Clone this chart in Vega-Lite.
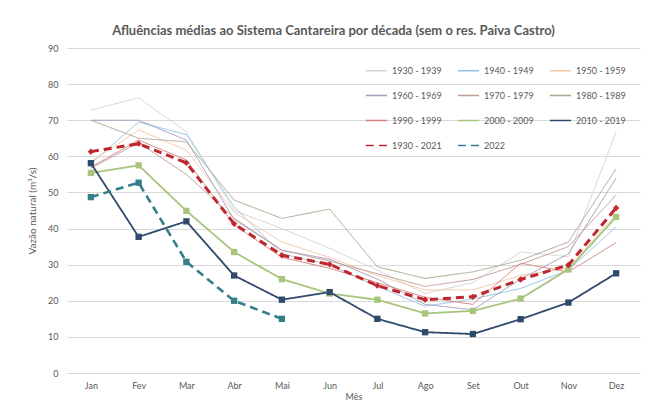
{
  "$schema": "https://vega.github.io/schema/vega-lite/v6.json",
  "width": 573,
  "height": 325,
  "autosize": {"type": "none"},
  "padding": {"left": 67, "top": 48, "right": 20, "bottom": 44},
  "background": "white",
  "title": {"text": "Afluências médias ao Sistema Cantareira por década  (sem o res. Paiva Castro)", "fontSize": 13, "font": "Lato", "fontWeight": "bold", "color": "#595959", "offset": 6, "dx": -20, "anchor": "middle"},
  "config": {
    "view": {"stroke": null},
    "font": "Lato",
    "axis": {"labelColor": "#595959", "titleColor": "#595959", "labelFontSize": 9, "titleFontSize": 9, "titleFontWeight": "normal", "ticks": false}
  },
  "data": {"values": [
    {"s":"1930 - 1939","m":"Jan","v":72.8},{"s":"1930 - 1939","m":"Fev","v":76.2},{"s":"1930 - 1939","m":"Mar","v":66.8},{"s":"1930 - 1939","m":"Abr","v":45},{"s":"1930 - 1939","m":"Mai","v":40},{"s":"1930 - 1939","m":"Jun","v":34.5},{"s":"1930 - 1939","m":"Jul","v":28.5},{"s":"1930 - 1939","m":"Ago","v":22},{"s":"1930 - 1939","m":"Set","v":25},{"s":"1930 - 1939","m":"Out","v":33.5},{"s":"1930 - 1939","m":"Nov","v":32.2},{"s":"1930 - 1939","m":"Dez","v":66.8},
    {"s":"1940 - 1949","m":"Jan","v":58},{"s":"1940 - 1949","m":"Fev","v":69.5},{"s":"1940 - 1949","m":"Mar","v":66},{"s":"1940 - 1949","m":"Abr","v":46},{"s":"1940 - 1949","m":"Mai","v":33},{"s":"1940 - 1949","m":"Jun","v":30},{"s":"1940 - 1949","m":"Jul","v":24},{"s":"1940 - 1949","m":"Ago","v":18.5},{"s":"1940 - 1949","m":"Set","v":20.5},{"s":"1940 - 1949","m":"Out","v":23.4},{"s":"1940 - 1949","m":"Nov","v":28.5},{"s":"1940 - 1949","m":"Dez","v":40.5},
    {"s":"1950 - 1959","m":"Jan","v":58.5},{"s":"1950 - 1959","m":"Fev","v":67.3},{"s":"1950 - 1959","m":"Mar","v":61.7},{"s":"1950 - 1959","m":"Abr","v":44.5},{"s":"1950 - 1959","m":"Mai","v":36.3},{"s":"1950 - 1959","m":"Jun","v":32},{"s":"1950 - 1959","m":"Jul","v":27},{"s":"1950 - 1959","m":"Ago","v":23},{"s":"1950 - 1959","m":"Set","v":23},{"s":"1950 - 1959","m":"Out","v":27},{"s":"1950 - 1959","m":"Nov","v":29},{"s":"1950 - 1959","m":"Dez","v":44},
    {"s":"1960 - 1969","m":"Jan","v":70},{"s":"1960 - 1969","m":"Fev","v":70},{"s":"1960 - 1969","m":"Mar","v":64.5},{"s":"1960 - 1969","m":"Abr","v":42.5},{"s":"1960 - 1969","m":"Mai","v":34},{"s":"1960 - 1969","m":"Jun","v":31.5},{"s":"1960 - 1969","m":"Jul","v":26},{"s":"1960 - 1969","m":"Ago","v":19},{"s":"1960 - 1969","m":"Set","v":17.5},{"s":"1960 - 1969","m":"Out","v":26},{"s":"1960 - 1969","m":"Nov","v":33},{"s":"1960 - 1969","m":"Dez","v":54},
    {"s":"1970 - 1979","m":"Jan","v":56.7},{"s":"1970 - 1979","m":"Fev","v":63.8},{"s":"1970 - 1979","m":"Mar","v":55},{"s":"1970 - 1979","m":"Abr","v":42.9},{"s":"1970 - 1979","m":"Mai","v":34},{"s":"1970 - 1979","m":"Jun","v":31},{"s":"1970 - 1979","m":"Jul","v":27.5},{"s":"1970 - 1979","m":"Ago","v":24},{"s":"1970 - 1979","m":"Set","v":25.9},{"s":"1970 - 1979","m":"Out","v":30.1},{"s":"1970 - 1979","m":"Nov","v":35},{"s":"1970 - 1979","m":"Dez","v":49.3},
    {"s":"1980 - 1989","m":"Jan","v":70},{"s":"1980 - 1989","m":"Fev","v":65},{"s":"1980 - 1989","m":"Mar","v":64},{"s":"1980 - 1989","m":"Abr","v":47.9},{"s":"1980 - 1989","m":"Mai","v":42.8},{"s":"1980 - 1989","m":"Jun","v":45.4},{"s":"1980 - 1989","m":"Jul","v":29.4},{"s":"1980 - 1989","m":"Ago","v":26.2},{"s":"1980 - 1989","m":"Set","v":28},{"s":"1980 - 1989","m":"Out","v":31.2},{"s":"1980 - 1989","m":"Nov","v":36.3},{"s":"1980 - 1989","m":"Dez","v":56.6},
    {"s":"1990 - 1999","m":"Jan","v":57},{"s":"1990 - 1999","m":"Fev","v":64.5},{"s":"1990 - 1999","m":"Mar","v":59},{"s":"1990 - 1999","m":"Abr","v":41},{"s":"1990 - 1999","m":"Mai","v":32},{"s":"1990 - 1999","m":"Jun","v":29},{"s":"1990 - 1999","m":"Jul","v":25},{"s":"1990 - 1999","m":"Ago","v":21},{"s":"1990 - 1999","m":"Set","v":19},{"s":"1990 - 1999","m":"Out","v":30.4},{"s":"1990 - 1999","m":"Nov","v":28},{"s":"1990 - 1999","m":"Dez","v":36.1},
    {"s":"2000 - 2009","m":"Jan","v":55.4},{"s":"2000 - 2009","m":"Fev","v":57.5},{"s":"2000 - 2009","m":"Mar","v":44.9},{"s":"2000 - 2009","m":"Abr","v":33.5},{"s":"2000 - 2009","m":"Mai","v":26},{"s":"2000 - 2009","m":"Jun","v":22},{"s":"2000 - 2009","m":"Jul","v":20.3},{"s":"2000 - 2009","m":"Ago","v":16.5},{"s":"2000 - 2009","m":"Set","v":17.2},{"s":"2000 - 2009","m":"Out","v":20.6},{"s":"2000 - 2009","m":"Nov","v":28.7},{"s":"2000 - 2009","m":"Dez","v":43.2},
    {"s":"2010 - 2019","m":"Jan","v":58.1},{"s":"2010 - 2019","m":"Fev","v":37.7},{"s":"2010 - 2019","m":"Mar","v":42},{"s":"2010 - 2019","m":"Abr","v":27},{"s":"2010 - 2019","m":"Mai","v":20.3},{"s":"2010 - 2019","m":"Jun","v":22.4},{"s":"2010 - 2019","m":"Jul","v":15},{"s":"2010 - 2019","m":"Ago","v":11.3},{"s":"2010 - 2019","m":"Set","v":10.8},{"s":"2010 - 2019","m":"Out","v":14.9},{"s":"2010 - 2019","m":"Nov","v":19.5},{"s":"2010 - 2019","m":"Dez","v":27.6},
    {"s":"1930 - 2021","m":"Jan","v":61.3},{"s":"1930 - 2021","m":"Fev","v":63.5},{"s":"1930 - 2021","m":"Mar","v":58.2},{"s":"1930 - 2021","m":"Abr","v":41.3},{"s":"1930 - 2021","m":"Mai","v":32.6},{"s":"1930 - 2021","m":"Jun","v":30.1},{"s":"1930 - 2021","m":"Jul","v":24.2},{"s":"1930 - 2021","m":"Ago","v":20.3},{"s":"1930 - 2021","m":"Set","v":21.1},{"s":"1930 - 2021","m":"Out","v":25.9},{"s":"1930 - 2021","m":"Nov","v":29.9},{"s":"1930 - 2021","m":"Dez","v":45.7},
    {"s":"2022","m":"Jan","v":48.7},{"s":"2022","m":"Fev","v":52.7},{"s":"2022","m":"Mar","v":30.8},{"s":"2022","m":"Abr","v":20},{"s":"2022","m":"Mai","v":15}
  ]},
  "encoding": {
    "x": {"field": "m", "type": "ordinal", "sort": ["Jan","Fev","Mar","Abr","Mai","Jun","Jul","Ago","Set","Out","Nov","Dez"], "scale": {"padding": 0.5},
      "axis": {"title": "Mês", "labelAngle": 0, "grid": false, "domainColor": "#d9d9d9", "labelPadding": 8, "titlePadding": 2}},
    "y": {"field": "v", "type": "quantitative", "scale": {"domain": [0, 90]},
      "axis": {"title": "Vazão natural  (m³/s)", "titleFontSize": 10, "values": [0,10,20,30,40,50,60,70,80,90], "grid": true, "gridColor": "#d9d9d9", "domain": false, "labelPadding": 9, "titlePadding": 10}},
    "color": {"field": "s", "type": "nominal",
      "scale": {"domain": ["1930 - 1939","1940 - 1949","1950 - 1959","1960 - 1969","1970 - 1979","1980 - 1989","1990 - 1999","2000 - 2009","2010 - 2019","1930 - 2021","2022"],
                "range": ["#d4d4d4","#8ec3e2","#f5c6a2","#a49cb8","#c09c96","#aca88e","#d5807c","#a8c57e","#2f4a6d","#c0272d","#33808a"]},
      "legend": {"orient": "none", "legendX": 298, "legendY": 11, "direction": "horizontal", "columns": 3, "symbolType": "stroke", "symbolSize": 450, "symbolStrokeWidth": 1.5, "title": null, "labelFontSize": 9, "labelColor": "#595959", "columnPadding": 12, "rowPadding": 8}},
    "strokeDash": {"field": "s", "type": "nominal",
      "scale": {"domain": ["1930 - 1939","1940 - 1949","1950 - 1959","1960 - 1969","1970 - 1979","1980 - 1989","1990 - 1999","2000 - 2009","2010 - 2019","1930 - 2021","2022"],
                "range": [[1,0],[1,0],[1,0],[1,0],[1,0],[1,0],[1,0],[1,0],[1,0],[8,5],[8,5]]}}
  },
  "layer": [
    {
      "transform": [{"filter": {"field": "s", "oneOf": ["1930 - 1939","1940 - 1949","1950 - 1959","1960 - 1969","1970 - 1979","1980 - 1989","1990 - 1999"]}}],
      "mark": {"type": "line", "strokeWidth": 1}
    },
    {
      "transform": [{"filter": {"field": "s", "oneOf": ["2000 - 2009","2010 - 2019"]}}],
      "mark": {"type": "line", "strokeWidth": 1.8}
    },
    {
      "transform": [{"filter": {"field": "s", "equal": "2022"}}],
      "mark": {"type": "line", "strokeWidth": 2.6}
    },
    {
      "transform": [{"filter": {"field": "s", "equal": "1930 - 2021"}}],
      "mark": {"type": "line", "strokeWidth": 3}
    },
    {
      "transform": [{"filter": {"field": "s", "oneOf": ["2000 - 2009","2010 - 2019","1930 - 2021","2022"]}}],
      "mark": {"type": "point", "filled": true, "opacity": 1},
      "encoding": {
        "strokeDash": {"value": [1,0]},
        "shape": {"field": "s", "type": "nominal", "legend": null,
          "scale": {"domain": ["2000 - 2009","2010 - 2019","1930 - 2021","2022"], "range": ["square","square","diamond","square"]}},
        "size": {"field": "s", "type": "nominal", "legend": null,
          "scale": {"domain": ["2000 - 2009","2010 - 2019","1930 - 2021","2022"], "range": [40,40,50,45]}}
      }
    }
  ]
}
